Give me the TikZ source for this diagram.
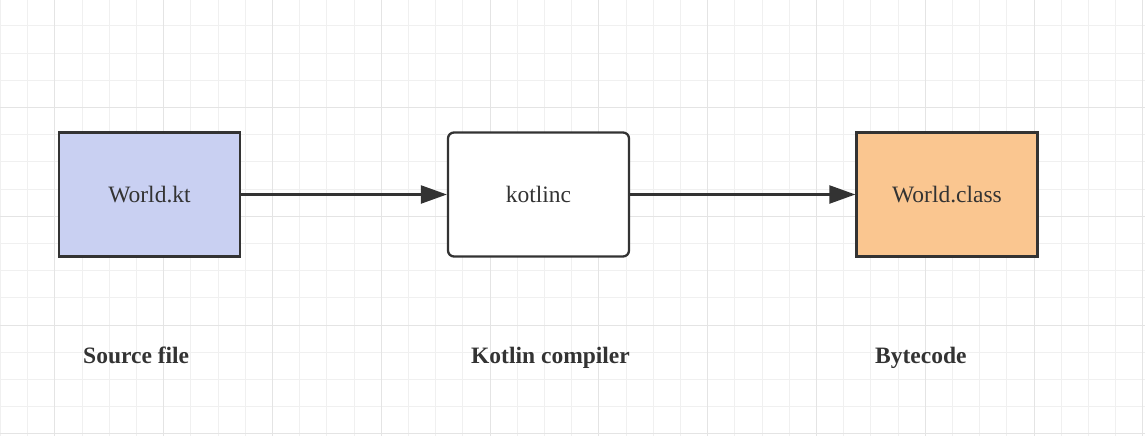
\documentclass[tikz,border=0pt]{standalone}
\usepackage{fontspec}
\setmainfont{Liberation Serif}
\usetikzlibrary{arrows.meta}
\definecolor{ink}{HTML}{333333}
\definecolor{gridminor}{HTML}{F0F0F0}
\definecolor{gridmajor}{HTML}{E4E4E4}
\definecolor{ktfill}{HTML}{C9D0F2}
\definecolor{classfill}{HTML}{FAC690}
\begin{document}
\begin{tikzpicture}[x=1pt,y=-1pt,
  minorline/.style={draw=gridminor, line width=1pt},
  majorline/.style={draw=gridmajor, line width=1pt},
  box/.style={draw=ink, line width=2.3pt, minimum width=181pt, minimum height=124pt, inner sep=0pt,
    font=\fontsize{23.5}{27}\selectfont, text=ink},
  lbl/.style={font=\bfseries\fontsize{23.5}{27}\selectfont, text=ink, anchor=base west, inner sep=0pt},
  conn/.style={draw=ink, line width=2.3pt, -{Triangle[length=26pt,width=18pt]}}]
\useasboundingbox (0,0) rectangle (1145,436);
\fill[white] (0,0) rectangle (1145,436);
\foreach \k in {0,...,42} {
  \pgfmathsetmacro\xx{round(27.2*\k)+0.5}
  \draw[minorline] (\xx,0) -- (\xx,436);
}
\foreach \k in {1,...,16} {
  \pgfmathsetmacro\yy{round(-1.8+27.2*\k)+0.5}
  \draw[minorline] (0,\yy) -- (1145,\yy);
}
\foreach \k in {0,...,10} {
  \pgfmathsetmacro\xx{round(54.4+108.8*\k)+0.5}
  \draw[majorline] (\xx,0) -- (\xx,436);
}
\foreach \k in {1,...,4} {
  \pgfmathsetmacro\yy{round(-1.8+108.8*\k)+0.5}
  \draw[majorline] (0,\yy) -- (1145,\yy);
}

\node[box, fill=ktfill] (kt) at (149.5,194.5) {World.kt};
\node[box, fill=white, rounded corners=6pt] (kc) at (538.5,194.5) {kotlinc};
\node[box, fill=classfill] (cls) at (947,194.5) {World.class};

\draw[conn] (kt) -- (kc);
\draw[conn] (kc) -- (cls);

\node[lbl] (l1) at (83,363) {Source file};
\node[lbl] (l2) at (471,363) {Kotlin compiler};
\node[lbl] (l3) at (875,363) {Bytecode};
\end{tikzpicture}
\end{document}
